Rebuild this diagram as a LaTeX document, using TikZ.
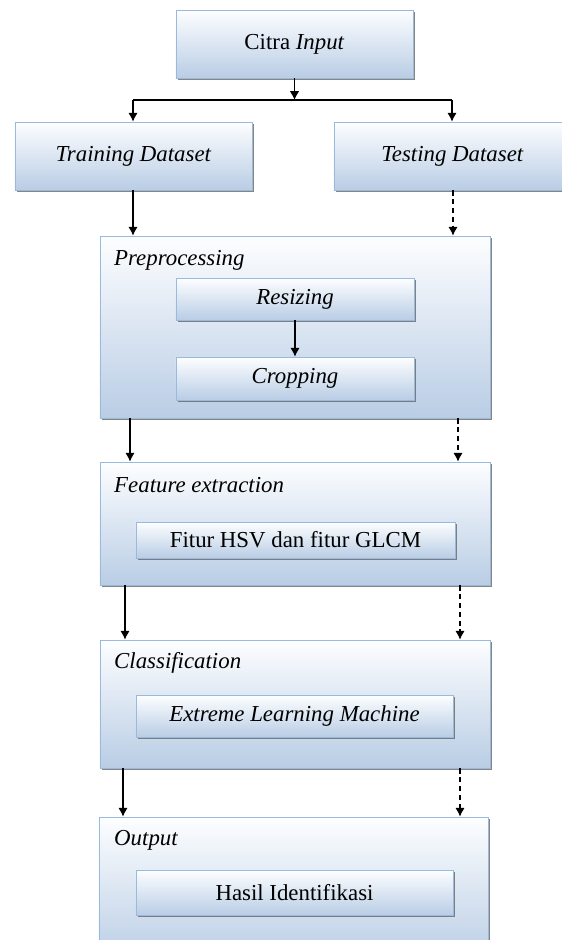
\documentclass[tikz,border=0pt]{standalone}
\usepackage{fontspec}
\setmainfont{Liberation Serif}
\usetikzlibrary{shadows,arrows.meta}
\definecolor{boxtop}{RGB}{253,254,255}
\definecolor{boxbot}{RGB}{185,205,229}
\definecolor{boxline}{RGB}{155,185,220}

\begin{document}
\begin{tikzpicture}[x=0.03cm,y=-0.03cm,>={Latex[length=7.5pt,width=8pt]}]
        \tikzstyle{every node}=[font=\fontsize{19.5}{23}\selectfont]
        \tikzstyle{box}=[draw=boxline, line width=0.6pt, top color=boxtop, bottom color=boxbot, inner sep=0pt, drop shadow={shadow xshift=1.8pt, shadow yshift=-1.8pt, fill=black!60, opacity=0.8}]
        \tikzstyle{group}=[box, minimum width=11.7cm]
        \tikzstyle{inbox}=[box, minimum width=9.51cm]
        \tikzstyle{topbox}=[box, minimum width=7.11cm, minimum height=2.04cm]
        \tikzstyle{lbl}=[anchor=west, inner sep=0pt]
        \tikzstyle{link}=[line width=1pt]
        \tikzstyle{flow}=[link, ->]
        \tikzstyle{testflow}=[flow, dash pattern=on 4.5pt off 3pt]
        \useasboundingbox (0,0) rectangle (562,940);
        \clip (0,0) rectangle (562,940);
        \node[topbox] (citra) at (294.5,44) {Citra \textit{Input}};
        \node[topbox] (train) at (133.5,156) {\textit{Training Dataset}};
        \node[topbox] (test) at (452.5,156) {\textit{Testing Dataset}};
        \node[group, minimum height=5.46cm] (prep) at (295,327) {};
        \node[lbl] (preplbl) at (114,260) {\textit{Preprocessing}};
        \node[box, minimum width=7.14cm, minimum height=1.26cm] (resize) at (295,299) {\textit{Resizing}};
        \node[box, minimum width=7.14cm, minimum height=1.29cm] (crop) at (295,378.5) {\textit{Cropping}};
        \node[group, minimum height=3.69cm] (feat) at (295,523.5) {};
        \node[lbl] (featlbl) at (114,485) {\textit{Feature extraction}};
        \node[inbox, minimum width=9.57cm, minimum height=1.08cm] (fitur) at (295.5,540) {Fitur HSV dan fitur GLCM};
        \node[group, minimum height=3.84cm] (cls) at (295,704) {};
        \node[lbl] (clslbl) at (114,663) {\textit{Classification}};
        \node[inbox, minimum height=1.26cm] (elm) at (294.5,716) {\textit{Extreme Learning Machine}};
        \node[group, minimum width=11.67cm, minimum height=4.38cm] (out) at (293.5,890) {};
        \node[lbl] (outlbl) at (114,840) {\textit{Output}};
        \node[inbox, minimum height=1.35cm] (hasil) at (294.5,892.5) {Hasil Identifikasi};
        % split to the two datasets
        \coordinate (split) at (294.5,100);
        \coordinate (sl) at (133,100);
        \coordinate (sr) at (452,100);
        \draw[flow] (citra) -- (split);
        \draw[link] (sl) -- (sr);
        \draw[flow] (sl) -- (sl |- train.north);
        \draw[flow] (sr) -- (sr |- test.north);
        % training (solid) and testing (dashed) lanes
        \draw[flow] (133,0 |- train.south) -- (133,0 |- prep.north);
        \draw[testflow] (453,0 |- test.south) -- (453,0 |- prep.north);
        \draw[flow] (resize) -- (crop);
        \draw[flow] (130,0 |- prep.south) -- (130,0 |- feat.north);
        \draw[testflow] (458,0 |- prep.south) -- (458,0 |- feat.north);
        \draw[flow] (125,0 |- feat.south) -- (125,0 |- cls.north);
        \draw[testflow] (460,0 |- feat.south) -- (460,0 |- cls.north);
        \draw[flow] (123,0 |- cls.south) -- (123,0 |- out.north);
        \draw[testflow] (460,0 |- cls.south) -- (460,0 |- out.north);
\end{tikzpicture}
\end{document}
